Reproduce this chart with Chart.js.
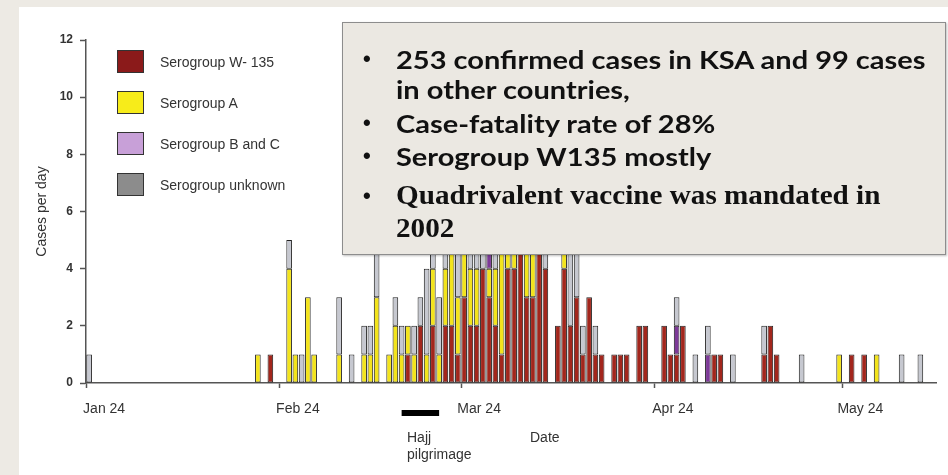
<!doctype html>
<html lang="en">
<head>
<meta charset="utf-8">
<title>Meningococcal disease, Hajj 2000</title>
<script src="https://cdn.jsdelivr.net/npm/chart.js@4.4.1/dist/chart.umd.min.js"></script>
<style>
  html, body { margin: 0; padding: 0; }
  body { width: 948px; height: 475px; background: #edeae4; position: relative; overflow: hidden;
         font-family: "Liberation Sans", Arial, sans-serif; color: #333; }
  #panel { position: absolute; left: 19px; top: 7px; right: 0; bottom: 0; background: #fff; }
  #wrap { position: absolute; left: 0; top: 0; width: 948px; height: 475px; }
  .sw { position: absolute; left: 117px; width: 25px; height: 21px; border: 1.5px solid #333; }
  .lt { position: absolute; left: 160px; font-size: 14px; line-height: 20px; color: #333; }
  .note { position: absolute; font-size: 14px; line-height: 17px; color: #333; }
  #box { position: absolute; left: 342px; top: 22px; width: 602px; height: 231px;
         background: #ebe8e2; border: 1.5px solid #8d8d8d; box-shadow: 1px 1px 2px rgba(0,0,0,0.25); }
  .item { position: absolute; left: 53px; color: #111; font-weight: bold; white-space: nowrap; }
  .item .b { position: absolute; left: -33px; top: 0; font-family: "Liberation Sans", Arial, sans-serif; font-size: 22px; }
  .item .t { display: inline-block; transform-origin: 0 0; }
  .sans { font-family: Lato, "Open Sans", sans-serif; font-size: 25px; line-height: 30px; }
  .sans .t { transform: scaleX(1.16); }
  .serif { font-family: "Liberation Serif", "Times New Roman", serif; font-size: 27px; line-height: 33px; }
  .serif .t { transform: scaleX(1.08); }
</style>
</head>
<body>
<div id="panel"></div>
<div id="wrap"><canvas id="epi" width="948" height="475"></canvas></div>

<div class="sw" style="top:50px;background:#8b1a1a"></div><div class="lt" style="top:52px">Serogroup W- 135</div>
<div class="sw" style="top:91px;background:#f7ec1a"></div><div class="lt" style="top:93px">Serogroup A</div>
<div class="sw" style="top:132px;background:#c8a0d8"></div><div class="lt" style="top:134px">Serogroup B and C</div>
<div class="sw" style="top:173px;background:#8c8c8c"></div><div class="lt" style="top:175px">Serogroup unknown</div>

<div class="note" style="left:407px;top:429px">Hajj<br>pilgrimage</div>
<div class="note" style="left:530px;top:429px">Date</div>

<div id="box">
  <div class="item sans" style="top:21px"><span class="b">•</span><span class="t">253 confirmed cases in KSA and 99 cases<br>in other countries,</span></div>
  <div class="item sans" style="top:85px"><span class="b">•</span><span class="t">Case-fatality rate of 28%</span></div>
  <div class="item sans" style="top:118px"><span class="b">•</span><span class="t">Serogroup W135 mostly</span></div>
  <div class="item serif" style="top:156px"><span class="b">•</span><span class="t">Quadrivalent vaccine was mandated in<br>2002</span></div>
</div>

<script>
// one category per day, Jan 24 to Jun 7 2000
var months = ['Jan','Feb','Mar','Apr','May','Jun']
var days = []
for (var i = 0; i < 136; i++) {
    var d = new Date(2000, 0, 24 + i)
    days.push(months[d.getMonth()] + ' ' + d.getDate())
}
var tickLabels = ['Jan 24', 'Feb 24', 'Mar 24', 'Apr 24', 'May 24']
var hajjStart = 'Mar 14'
var hajjEnd = 'Mar 20'

// cases per day, 10 days per row
var w135 = [
    0,0,0,0,0,0,0,0,0,0,
    0,0,0,0,0,0,0,0,0,0,
    0,0,0,0,0,0,0,0,0,1,
    0,0,0,0,0,0,0,0,0,0,
    0,0,0,0,0,0,0,0,0,0,
    0,1,0,2,0,2,0,2,2,1,
    3,2,2,4,3,2,1,4,4,6,
    3,3,5,4,0,2,4,2,3,1,
    3,1,1,0,1,1,1,0,2,2,
    0,0,2,1,1,2,0,0,0,0,
    1,1,0,0,0,0,0,0,1,2,
    1,0,0,0,0,0,0,0,0,0,
    0,0,1,0,1,0,0,0,0,0,
    0,0,0,0,0,0
]
var groupA = [
    0,0,0,0,0,0,0,0,0,0,
    0,0,0,0,0,0,0,0,0,0,
    0,0,0,0,0,0,0,1,0,0,
    0,0,4,1,0,3,1,0,0,0,
    1,0,0,0,1,1,3,0,1,2,
    1,1,1,0,1,2,1,2,3,2,
    2,2,2,0,1,2,4,1,1,0,
    2,2,0,0,0,0,1,0,0,0,
    0,0,0,0,0,0,0,0,0,0,
    0,0,0,0,0,0,0,0,0,0,
    0,0,0,0,0,0,0,0,0,0,
    0,0,0,0,0,0,0,0,0,0,
    1,0,0,0,0,0,1,0,0,0,
    0,0,0,0,0,0
]
var groupBC = [
    0,0,0,0,0,0,0,0,0,0,
    0,0,0,0,0,0,0,0,0,0,
    0,0,0,0,0,0,0,0,0,0,
    0,0,0,0,0,0,0,0,0,0,
    0,0,0,0,0,0,0,0,0,0,
    0,0,0,0,0,0,0,0,0,0,
    0,0,0,0,1,0,0,0,0,0,
    0,0,0,0,0,0,0,0,0,0,
    0,0,0,0,0,0,0,0,0,0,
    0,0,0,0,1,0,0,0,0,1,
    0,0,0,0,0,0,0,0,0,0,
    0,0,0,0,0,0,0,0,0,0,
    0,0,0,0,0,0,0,0,0,0,
    0,0,0,0,0,0
]
var unknown = [
    1,0,0,0,0,0,0,0,0,0,
    0,0,0,0,0,0,0,0,0,0,
    0,0,0,0,0,0,0,0,0,0,
    0,0,1,0,1,0,0,0,0,0,
    2,0,1,0,1,1,3,0,0,1,
    1,0,1,1,3,1,2,2,1,2,
    1,1,1,1,0,1,0,1,0,0,
    0,0,0,1,0,0,0,3,2,1,
    0,1,0,0,0,0,0,0,0,0,
    0,0,0,0,1,0,0,1,0,1,
    0,0,0,1,0,0,0,0,1,0,
    0,0,0,0,1,0,0,0,0,0,
    0,0,0,0,0,0,0,0,0,0,
    1,0,0,1,0,0
]

function nz(arr) { return arr.map(function (v) { return v || null }) }

function series(label, data, color) {
    return {
        label: label,
        data: nz(data),
        backgroundColor: color,
        borderColor: '#222',
        borderWidth: 1,
        borderSkipped: false,
        barPercentage: 0.9,
        categoryPercentage: 1
    }
}

// black bar under the axis for the Hajj period
var hajjBar = {
    id: 'hajjBar',
    afterDraw: function (chart) {
        var x = chart.scales.x
        var x1 = x.getPixelForValue(days.indexOf(hajjStart))
        var x2 = x.getPixelForValue(days.indexOf(hajjEnd))
        var c = chart.ctx
        c.save()
        c.fillStyle = '#000'
        c.fillRect(x1, chart.chartArea.bottom + 27, x2 - x1, 6)
        c.restore()
    }
}

var axisGrey = '#555'

new Chart(document.getElementById('epi').getContext('2d'), {
    type: 'bar',
    data: {
        labels: days,
        datasets: [
            series('Serogroup W-135', w135, '#a3261c'),
            series('Serogroup A', groupA, '#f3e41c'),
            series('Serogroup B and C', groupBC, '#7d3a98'),
            series('Serogroup unknown', unknown, '#c6c8d0')
        ]
    },
    options: {
        responsive: false,
        animation: false,
        layout: { padding: { left: 31, right: 12, top: 40, bottom: 47 } },
        plugins: { legend: { display: false }, tooltip: { enabled: false } },
        scales: {
            x: {
                stacked: true,
                afterFit: function (s) { s.height = 45 },
                border: { display: true, color: axisGrey, width: 1.5 },
                grid: {
                    drawOnChartArea: false,
                    tickLength: 5,
                    tickWidth: 1.5,
                    tickColor: function (ctx) {
                        return tickLabels.indexOf(days[ctx.index]) >= 0 ? axisGrey : 'rgba(0,0,0,0)'
                    }
                },
                ticks: {
                    autoSkip: false,
                    maxRotation: 0,
                    padding: 13,
                    labelOffset: 15,
                    color: '#333',
                    font: { family: 'Liberation Sans', size: 14 },
                    callback: function (v) {
                        var lab = days[v]
                        return tickLabels.indexOf(lab) >= 0 ? lab : ''
                    }
                }
            },
            y: {
                stacked: true,
                min: 0,
                max: 12,
                afterFit: function (s) { s.width = 55 },
                border: { display: true, color: axisGrey, width: 1.5 },
                grid: { drawOnChartArea: false, tickLength: 6, tickWidth: 1.5, tickColor: axisGrey },
                ticks: {
                    stepSize: 2,
                    padding: 7,
                    color: '#333',
                    font: { family: 'Liberation Sans', size: 12, weight: 'bold' }
                },
                title: {
                    display: true,
                    text: 'Cases per day',
                    color: '#333',
                    padding: { top: 3, bottom: 0 },
                    font: { family: 'Liberation Sans', size: 14 }
                }
            }
        }
    },
    plugins: [hajjBar]
})
</script>
</body>
</html>
